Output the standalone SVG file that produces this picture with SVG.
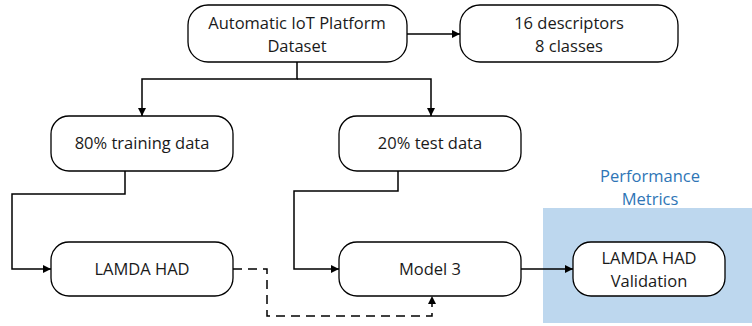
<svg xmlns="http://www.w3.org/2000/svg" width="752" height="326" viewBox="0 0 752 326">
<defs>
<style>
.n{fill:#fff;stroke:#000;stroke-width:1.3}
.t{font-family:"Open Sans","Liberation Sans",sans-serif;font-size:16.5px;fill:#1a1a1a;text-anchor:middle}
.c{fill:none;stroke:#000;stroke-width:1.5}
.d{fill:none;stroke:#000;stroke-width:1.5;stroke-dasharray:9,6}
</style>
<marker id="a" viewBox="0 0 10 10" refX="10" refY="5" markerWidth="8" markerHeight="8" markerUnits="userSpaceOnUse" orient="auto"><path d="M0,0L10,5L0,10z" fill="#000"/></marker>
</defs>
<rect x="543" y="208" width="209" height="115" fill="#BDD7EE"/>
<text x="650" y="182" class="t" style="fill:#2E75B6">Performance</text>
<text x="650" y="205" class="t" style="fill:#2E75B6">Metrics</text>
<g id="connectors">
<path class="c" d="M407,34H460" marker-end="url(#a)"/>
<path class="c" d="M297,62V79H142V116" marker-end="url(#a)"/>
<path class="c" d="M297,79H431V116" marker-end="url(#a)"/>
<path class="c" d="M125,171V194H12V269H51" marker-end="url(#a)"/>
<path class="c" d="M398,171V191H294V269H339" marker-end="url(#a)"/>
<path class="d" d="M233,269H267V316H432V296" marker-end="url(#a)"/>
<path class="c" d="M521,269H573" marker-end="url(#a)"/>
</g>
<g id="dataset"><rect class="n" x="188" y="5" width="219" height="57" rx="20"/><text class="t" x="297" y="29">Automatic IoT Platform</text><text class="t" x="297" y="52">Dataset</text></g>
<g id="descriptors"><rect class="n" x="460" y="5" width="218" height="57" rx="20"/><text class="t" x="569" y="29">16 descriptors</text><text class="t" x="569" y="52">8 classes</text></g>
<g id="training"><rect class="n" x="51" y="116" width="182" height="55" rx="18"/><text class="t" x="142" y="149">80% training data</text></g>
<g id="test"><rect class="n" x="339" y="116" width="182" height="55" rx="18"/><text class="t" x="430" y="149">20% test data</text></g>
<g id="lamda"><rect class="n" x="51" y="242" width="182" height="54" rx="18"/><text class="t" x="142" y="275">LAMDA HAD</text></g>
<g id="model3"><rect class="n" x="339" y="242" width="182" height="54" rx="18"/><text class="t" x="430" y="275">Model 3</text></g>
<g id="validation"><rect class="n" x="573" y="242" width="152" height="54" rx="18"/><text class="t" x="649" y="264">LAMDA HAD</text><text class="t" x="649" y="287">Validation</text></g>
</svg>
